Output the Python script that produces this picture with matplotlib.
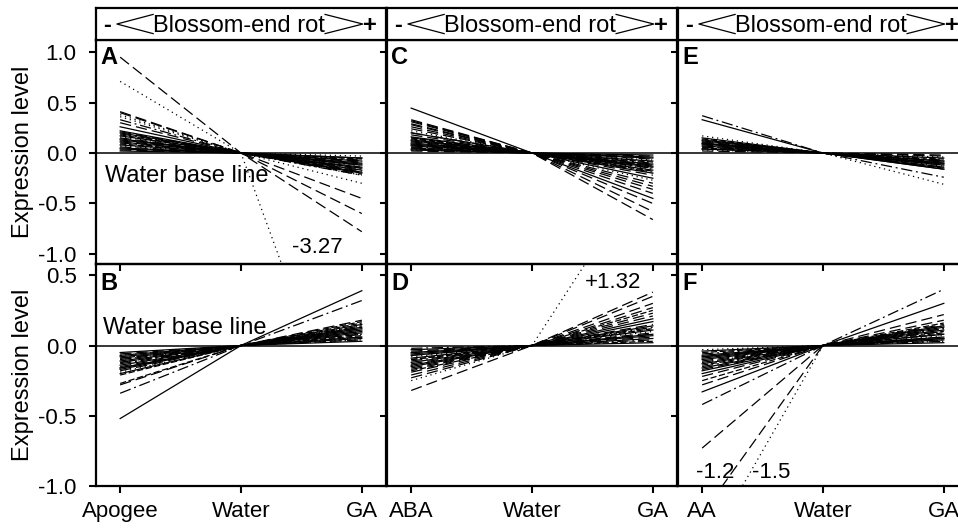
import matplotlib.pyplot as plt

plt.rcParams['font.family'] = ['Liberation Sans', 'DejaVu Sans']

# categories (x) for the three columns
cats_ab = ['Apogee', 'Water', 'GA']
cats_cd = ['ABA', 'Water', 'GA']
cats_ef = ['AA', 'Water', 'GA']
water_level = 0.0

# A: Apogee vs GA (relative to water)
a_left = [0.95, 0.71, 0.41, 0.40, 0.38, 0.36, 0.33, 0.30, 0.26, 0.22,
          0.21, 0.20, 0.19, 0.18, 0.17, 0.16, 0.15, 0.14, 0.13, 0.12,
          0.11, 0.10, 0.09, 0.08, 0.07, 0.06, 0.05, 0.04, 0.03, 0.02]
a_right = [-0.78, -3.27, -0.60, -0.45, -0.30, -0.03, -0.22, -0.21, -0.20, -0.19,
           -0.18, -0.17, -0.16, -0.15, -0.14, -0.13, -0.12, -0.11, -0.10, -0.09,
           -0.08, -0.07, -0.06, -0.05, -0.22, -0.19, -0.15, -0.12, -0.08, -0.05]

# B
b_left = [-0.52, -0.34, -0.28, -0.27, -0.21, -0.20, -0.19, -0.18, -0.17, -0.16,
          -0.15, -0.14, -0.13, -0.12, -0.11, -0.10, -0.09, -0.08, -0.07, -0.06,
          -0.05, -0.12, -0.09, -0.16, -0.07, -0.10]
b_right = [0.39, 0.32, 0.18, 0.17, 0.16, 0.15, 0.14, 0.13, 0.12, 0.11,
           0.10, 0.09, 0.08, 0.07, 0.06, 0.05, 0.04, 0.03, 0.13, 0.08,
           0.05, 0.14, 0.06, 0.10, 0.04, 0.12]

# C: ABA vs GA
c_left = [0.445, 0.33, 0.32, 0.31, 0.29, 0.28, 0.26, 0.24, 0.22, 0.20,
          0.18, 0.16, 0.15, 0.14, 0.13, 0.12, 0.11, 0.10, 0.09, 0.08,
          0.07, 0.06, 0.05, 0.04, 0.03, 0.02, 0.12, 0.08, 0.05, 0.03,
          0.20, 0.15]
c_right = [-0.45, -0.66, -0.58, -0.50, -0.36, -0.40, -0.33, -0.30, -0.27, -0.25,
           -0.22, -0.20, -0.19, -0.18, -0.17, -0.16, -0.15, -0.14, -0.13, -0.12,
           -0.11, -0.10, -0.09, -0.08, -0.07, -0.06, -0.05, -0.04, -0.03, -0.02,
           -0.15, -0.12]

# D
d_left = [-0.32, -0.25, -0.23, -0.21, -0.19, -0.18, -0.17, -0.16, -0.15, -0.14,
          -0.13, -0.12, -0.11, -0.10, -0.09, -0.08, -0.07, -0.06, -0.05, -0.04,
          -0.03, -0.02, -0.10, -0.07, -0.14, -0.05]
d_right = [0.38, 1.32, 0.35, 0.30, 0.27, 0.25, 0.23, 0.21, 0.19, 0.17,
           0.15, 0.14, 0.13, 0.12, 0.11, 0.10, 0.09, 0.08, 0.07, 0.06,
           0.05, 0.04, 0.03, 0.02, 0.12, 0.08]

# E: AA vs GA
e_left = [0.37, 0.33, 0.17, 0.15, 0.14, 0.13, 0.12, 0.11, 0.10, 0.09,
          0.08, 0.07, 0.06, 0.05, 0.04, 0.03, 0.02, 0.12, 0.09, 0.06,
          0.04, 0.10]
e_right = [-0.24, -0.16, -0.31, -0.16, -0.15, -0.14, -0.13, -0.12, -0.11, -0.10,
           -0.09, -0.08, -0.07, -0.06, -0.05, -0.04, -0.03, -0.12, -0.10, -0.02,
           -0.08, -0.14]

# F
f_left = [-1.5, -1.2, -0.73, -0.42, -0.33, -0.28, -0.25, -0.22, -0.20, -0.18,
          -0.17, -0.16, -0.15, -0.14, -0.13, -0.12, -0.11, -0.10, -0.09, -0.08,
          -0.07, -0.06, -0.05, -0.04, -0.03, -0.12, -0.08]
f_right = [0.04, 0.10, 0.22, 0.40, 0.30, 0.18, 0.16, 0.15, 0.14, 0.13,
           0.12, 0.11, 0.10, 0.09, 0.08, 0.07, 0.06, 0.05, 0.04, 0.03,
           0.02, 0.12, 0.08, 0.06, 0.03, 0.14, 0.05]

# line styles
LS = {'s': '-', 'd': (0, (9, 4)), 'o': (0, (1, 3)),
      'dd': (0, (9, 3, 1.5, 3)), 'sd': (0, (5, 2))}
CYCLE = ['s', 'd', 's', 'dd', 'sd', 's', 'o', 'd', 's']


def draw_lines(ax, cats, left, right, special):
    for i, (l, r) in enumerate(zip(left, right, strict=True)):
        code = special[i] if i < len(special) else CYCLE[i % len(CYCLE)]
        ax.plot(cats, [l, water_level, r], color='black', lw=0.9,
                ls=LS[code])


def header(left):
    hx = fig.add_axes([left, 0.9242, 0.3027, 0.0606])
    hx.set_xticks([])
    hx.set_yticks([])
    for sp in hx.spines.values():
        sp.set_linewidth(1.6)
    hx.set_xlim(0, 1)
    hx.set_ylim(0, 1)
    hx.text(0.038, 0.25, '-', fontsize=17, fontweight='bold', ha='center', va='baseline')
    hx.plot([0.197, 0.072, 0.197], [0.80, 0.50, 0.20], color='black', lw=0.9)
    hx.text(0.197, 0.25, 'Blossom-end rot', fontsize=17, ha='left', va='baseline')
    hx.plot([0.79, 0.92, 0.79], [0.80, 0.50, 0.20], color='black', lw=0.9)
    hx.text(0.945, 0.25, '+', fontsize=17, fontweight='bold', ha='center', va='baseline')


fig = plt.figure(figsize=(9.58, 5.28), dpi=100)

lefts = [0.1002, 0.4040, 0.7077]
w = 0.3027
top_b, top_h = 0.5, 0.4242
bot_b, bot_h = 0.0795, 0.4205

panels = [
    ('A', cats_ab, a_left, a_right, ['d', 'o', 'd', 'd', 'o', 'o', 'dd'], 0, 'top'),
    ('B', cats_ab, b_left, b_right, ['s', 'dd', 'd', 'sd'], 0, 'bot'),
    ('C', cats_cd, c_left, c_right, ['s', 'd', 'd', 'd', 'd', 'd', 'd', 'd', 'o'], 1, 'top'),
    ('D', cats_cd, d_left, d_right, ['d', 'o', 'd', 'd', 'd', 'sd', 'd'], 1, 'bot'),
    ('E', cats_ef, e_left, e_right, ['dd', 's', 'o', 's'], 2, 'top'),
    ('F', cats_ef, f_left, f_right, ['o', 'd', 'd', 'dd', 's', 'd', 'sd'], 2, 'bot'),
]

axes = {}
for name, cats, left, right, special, col, row in panels:
    if row == 'top':
        ax = fig.add_axes([lefts[col], top_b, w, top_h])
        ax.set_ylim(-1.1, 1.12)
        ax.set_yticks([1.0, 0.5, 0.0, -0.5, -1.0])
    else:
        ax = fig.add_axes([lefts[col], bot_b, w, bot_h])
        ax.set_ylim(-1.0, 0.58)
        ax.set_yticks([0.5, 0.0, -0.5, -1.0])
    ax.set_facecolor('none')
    draw_lines(ax, cats, left, right, special)
    ax.axhline(water_level, color='black', lw=1.1)
    ax.set_xlim(-0.2, 2.2)
    ax.set_yticklabels([f'{t:.1f}' for t in ax.get_yticks()])
    for sp in ax.spines.values():
        sp.set_linewidth(1.6)
    ax.tick_params(direction='out', length=5, width=1.5, labelsize=16)
    ax.tick_params(axis='y', pad=9)
    if col > 0:
        ax.tick_params(labelleft=False)
    if row == 'top':
        ax.tick_params(labelbottom=False)
    else:
        ax.tick_params(axis='x', pad=6)
    if col == 0:
        ax.set_ylabel('Expression level', fontsize=17, labelpad=3)
    ax.text(0.014, 0.975 if row == 'top' else 0.965, name, transform=ax.transAxes,
            fontsize=17, fontweight='bold', ha='left', va='top')
    axes[name] = ax

for l in lefts:
    header(l)

axes['A'].text(0.031, -0.29, 'Water base line', transform=axes['A'].get_yaxis_transform(),
               fontsize=17, ha='left', va='baseline')
axes['B'].text(0.024, 0.08, 'Water base line', transform=axes['B'].get_yaxis_transform(),
               fontsize=17, ha='left', va='baseline')
axes['A'].text(1.42, -0.99, '-3.27', fontsize=16, ha='left', va='baseline')
axes['D'].text(1.44, 0.41, '+1.32', fontsize=16, ha='left', va='baseline')
axes['F'].text(-0.05, -0.94, '-1.2', fontsize=16, ha='left', va='baseline')
axes['F'].text(0.41, -0.94, '-1.5', fontsize=16, ha='left', va='baseline')

fig.savefig('out.png', dpi=100)
